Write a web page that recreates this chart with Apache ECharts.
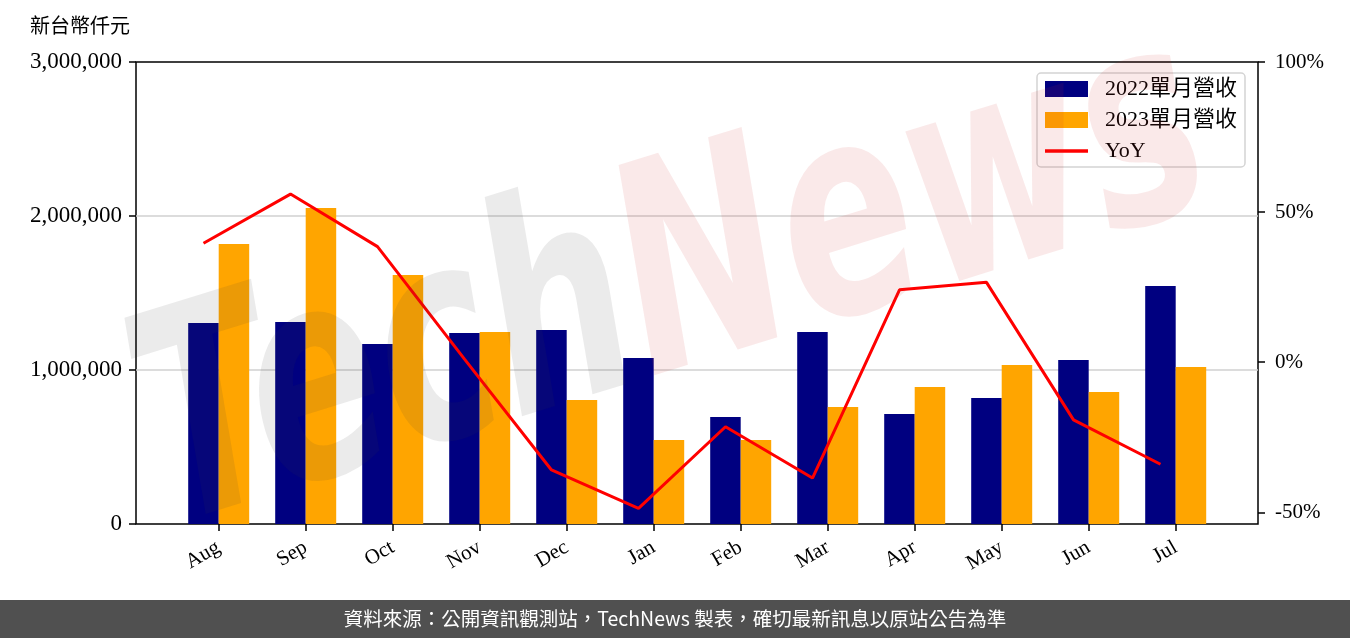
<!DOCTYPE html>
<html><head><meta charset="utf-8">
<script src="https://cdn.jsdelivr.net/npm/echarts@6.0.0/dist/echarts.min.js"></script>
<style>html,body{margin:0;padding:0;background:#fff}#c{width:1350px;height:638px}</style>
</head><body><div id="c"></div>
<script>
const categories = ['Aug','Sep','Oct','Nov','Dec','Jan','Feb','Mar','Apr','May','Jun','Jul'];
const rev2022 = [1305000,1312000,1169000,1240000,1260000,1078000,695000,1247000,714000,818000,1065000,1545000];
const rev2023 = [1818000,2052000,1617000,1247000,805000,545000,545000,760000,890000,1032000,857000,1019000];
const yoy = [39.6,56.0,38.5,1.0,-35.9,-48.7,-21.5,-38.6,24.1,26.6,-19.2,-34.0];
const leftTicks = [0,1000000,2000000,3000000];
const rightTicks = [-50,0,50,100];
const seriesNames = ['2022單月營收','2023單月營收','YoY'];
const unitTitle = '新台幣仟元';
const footerText = '資料來源：公開資訊觀測站，TechNews 製表，確切最新訊息以原站公告為準';

const SERIF = '"Liberation Serif", "Noto Sans CJK TC", serif';
const leftMin = leftTicks[0], leftMax = leftTicks[leftTicks.length-1];
const rightMin = -53.9, rightMax = 100;

const chart = echarts.init(document.getElementById('c'), null, {renderer:'canvas'});
const tickStyle = {color:'#000', width:1.5};
chart.setOption({
  animation:false,
  backgroundColor:'#fff',
  grid:[
    {left:136, top:62, width:1122, height:462, show:true, borderColor:'#000', borderWidth:1.5, backgroundColor:'transparent'},
    {left:175.2, top:62, width:1044, height:462},
    {left:160, top:62, width:1044, height:462}
  ],
  xAxis:[
    {gridIndex:0, type:'value', min:0, max:1, show:false},
    {gridIndex:1, type:'category', data:categories, boundaryGap:true,
      axisLine:{show:false},
      axisTick:{show:true, alignWithLabel:true, length:7, lineStyle:tickStyle},
      axisLabel:{rotate:30, margin:22, fontFamily:SERIF, fontSize:21, color:'#000'}},
    {gridIndex:2, type:'category', data:categories, boundaryGap:true, show:false}
  ],
  yAxis:[
    {gridIndex:0, type:'value', position:'left', min:leftMin, max:leftMax, interval:leftTicks[1]-leftTicks[0],
      axisLine:{show:false},
      axisTick:{show:true, length:7, lineStyle:tickStyle},
      axisLabel:{margin:14, fontFamily:SERIF, fontSize:23, color:'#000', formatter:v=>v.toLocaleString('en-US')},
      splitLine:{show:true, showMinLine:false, showMaxLine:false, lineStyle:{color:'#d0d0d0', width:1.5}}},
    {gridIndex:0, type:'value', position:'right', min:rightMin, max:rightMax,
      axisLine:{show:false},
      axisTick:{show:true, length:7, lineStyle:tickStyle, customValues:rightTicks},
      axisLabel:{margin:17, fontFamily:SERIF, fontSize:21, color:'#000', customValues:rightTicks, formatter:v=>v+'%'},
      splitLine:{show:false}},
    {gridIndex:1, type:'value', min:leftMin, max:leftMax, show:false},
    {gridIndex:2, type:'value', min:rightMin, max:rightMax, show:false}
  ],
  legend:{
    orient:'vertical', left:1037, top:73,
    data:[
      {name:seriesNames[0], icon:'rect'},
      {name:seriesNames[1], icon:'rect'},
      {name:seriesNames[2], icon:'path://M0,0H43V3.5H0Z'}
    ],
    itemWidth:43, itemHeight:16, itemGap:9,
    padding:[5,8,5,8],
    borderColor:'#d4d4d4', borderWidth:1.5, borderRadius:4,
    backgroundColor:'rgba(255,255,255,0.8)',
    textStyle:{fontFamily:SERIF, fontSize:22, color:'#000', padding:[0,0,0,12]}
  },
  series:[
    {name:seriesNames[0], type:'bar', xAxisIndex:1, yAxisIndex:2, data:rev2022, barWidth:30.5, barGap:'0%', itemStyle:{color:'#000080'}},
    {name:seriesNames[1], type:'bar', xAxisIndex:1, yAxisIndex:2, data:rev2023, barWidth:30.5, barGap:'0%', itemStyle:{color:'#FFA500'}},
    {name:seriesNames[2], type:'line', xAxisIndex:2, yAxisIndex:3, data:yoy, symbol:'none', z:5,
      lineStyle:{color:'#FF0000', width:3}, itemStyle:{color:'#FF0000'}}
  ],
  graphic:[
    {type:'text', left:30, top:15, style:{text:unitTitle, fontFamily:'"Noto Sans CJK TC", sans-serif', fontSize:20, fill:'#000'}},
    {type:'text', x:675, y:290, rotation:0.30, scaleX:0.68, silent:true, z:100,
      style:{text:'{a|Tech}{b|News}', align:'center', verticalAlign:'middle',
        rich:{
          a:{fontFamily:'"DejaVu Sans"', fontWeight:'bold', fontStyle:'italic', fontSize:290, fill:'rgba(60,60,60,0.1)'},
          b:{fontFamily:'"DejaVu Sans"', fontWeight:'bold', fontStyle:'italic', fontSize:290, fill:'rgba(210,40,40,0.1)'}
        }}},
    {type:'rect', left:0, top:600, shape:{width:1350, height:38}, style:{fill:'#505050'}, z:50},
    {type:'text', x:675, y:619, z:51, style:{text:footerText, align:'center', verticalAlign:'middle', fontFamily:'"Noto Sans CJK TC", sans-serif', fontSize:19.5, fill:'#fff'}}
  ]
});
</script></body></html>
